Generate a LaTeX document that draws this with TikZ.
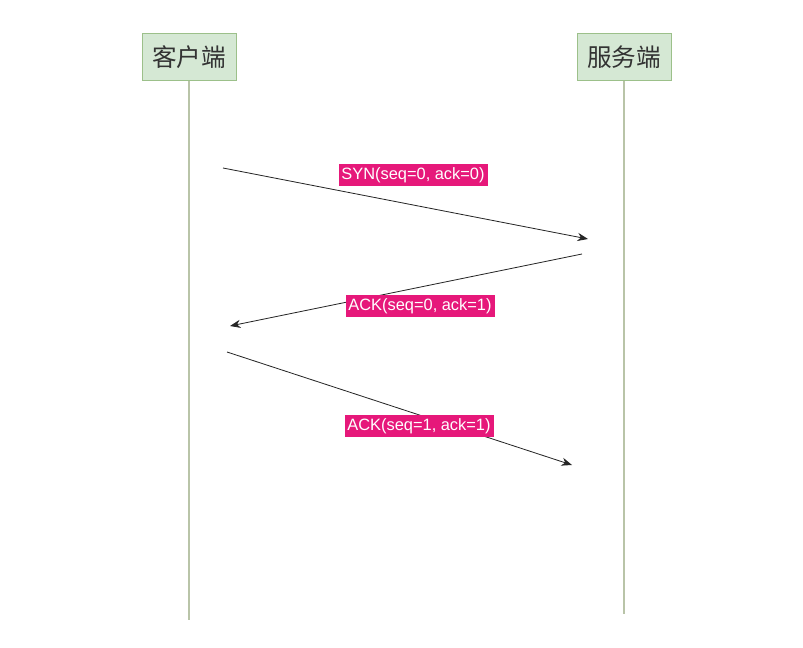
\documentclass[tikz,border=0pt]{standalone}
\usepackage{fontspec}
\setmainfont{Liberation Sans}
\newfontfamily\cjk{Noto Sans CJK SC}
\usepackage{tikz}
\usetikzlibrary{arrows.meta}
\definecolor{boxfill}{HTML}{D5E8D4}
\definecolor{boxline}{HTML}{9CC08A}
\definecolor{lifeline}{HTML}{B9C4A8}
\definecolor{tagpink}{HTML}{E6187A}
\tikzset{
	party/.style={draw=boxline, fill=boxfill, line width=0.8pt, minimum width=94*0.03cm, minimum height=47*0.03cm, inner sep=0pt, font=\cjk\fontsize{21}{24}\selectfont, text=black!80},
	msg/.style={-{Stealth[length=9pt,width=7pt]}, line width=0.7pt, black!85},
	tag/.style={fill=tagpink, text=white, inner xsep=2.5pt, inner ysep=2.5pt, font=\fontsize{14}{16}\selectfont}
}

\begin{document}
\begin{tikzpicture}[x=0.03cm, y=-0.03cm]
		%%%%% START %%%%%
		\useasboundingbox (0, 0) rectangle (803, 648);
		
		\node[party] (client) at (189, 57) {客户端};
		\node[party] (server) at (624, 57) {服务端};
		
		\coordinate (clientend) at (189, 620);
		\coordinate (serverend) at (624, 614);
		\draw[lifeline, line width=1.2pt] (client.south) -- (clientend);
		\draw[lifeline, line width=1.2pt] (server.south) -- (serverend);
		
		\coordinate (syna) at (223, 168);
		\coordinate (synb) at (588, 239);
		\coordinate (acka) at (582, 254);
		\coordinate (ackb) at (230, 326);
		\coordinate (finala) at (227, 352);
		\coordinate (finalb) at (572, 465);
		
		\draw[msg] (syna) -- (synb);
		\draw[msg] (acka) -- (ackb);
		\draw[msg] (finala) -- (finalb);
		
		\node[tag] (syntag) at (413, 175) {SYN(seq=0, ack=0)};
		\node[tag] (acktag) at (420, 306) {ACK(seq=0, ack=1)};
		\node[tag] (finaltag) at (419, 426) {ACK(seq=1, ack=1)};
		%%%%% END %%%%%
	\end{tikzpicture}
\end{document}
